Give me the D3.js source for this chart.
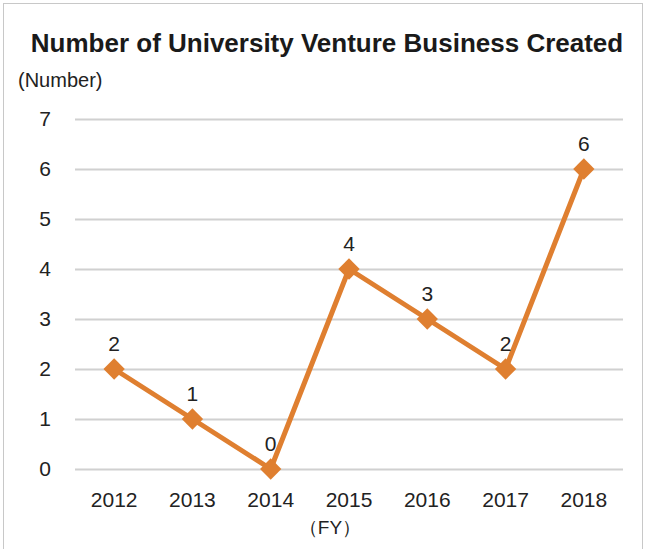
<!DOCTYPE html>
<html><head><meta charset="utf-8">
<script src="https://cdn.jsdelivr.net/npm/d3@7"></script>
<style>body{margin:0;background:#fff;}svg{display:block;font-family:"Liberation Sans",Arial,sans-serif;}</style>
</head><body>
<svg id="c" width="646" height="549"></svg>
<script>
const years = ["2012","2013","2014","2015","2016","2017","2018"];
const counts = [2,1,0,4,3,2,6];
const yTicks = [0,1,2,3,4,5,6,7];

const svg = d3.select("#c");
svg.append("rect").attr("x",3.5).attr("y",3.5).attr("width",639).attr("height",550)
  .attr("fill","#fff").attr("stroke","#c8c8c8").attr("stroke-width",1);

const x = d3.scaleBand().domain(years).range([75,623]);
const y = d3.scaleLinear().domain([0,7]).range([469,119]);

svg.append("text").attr("x",327).attr("y",52).attr("text-anchor","middle")
  .attr("font-size",26).attr("font-weight","bold").attr("fill","#1a1a1a")
  .text("Number of University Venture Business Created");
svg.append("text").attr("x",18).attr("y",87).attr("font-size",20).attr("fill","#222").text("(Number)");

const ya = svg.append("g").attr("transform","translate(75,0)")
  .call(d3.axisLeft(y).tickValues(yTicks).tickSize(-548).tickPadding(24).tickFormat(d3.format("d")));
ya.select(".domain").remove();
ya.selectAll(".tick line").attr("stroke","#d0d0d0").attr("stroke-width",2);
ya.selectAll(".tick text").attr("font-size",21).attr("fill","#222").attr("font-family","Liberation Sans, Arial, sans-serif");

const xa = svg.append("g").attr("transform","translate(0,469)")
  .call(d3.axisBottom(x).tickSize(0).tickPadding(23));
xa.select(".domain").remove();
xa.selectAll(".tick text").attr("font-size",21).attr("fill","#222").attr("font-family","Liberation Sans, Arial, sans-serif");

svg.append("text").attr("x",330).attr("y",534).attr("text-anchor","middle").attr("font-size",19).attr("fill","#222").text("（FY）");

const cx = d => x(d) + x.bandwidth()/2;
const color = "#DF7F30";
const line = d3.line().x((d,i)=>cx(years[i])).y(d=>y(d));
svg.append("path").datum(counts).attr("d",line).attr("fill","none").attr("stroke",color).attr("stroke-width",5).attr("stroke-linejoin","round");

svg.selectAll(".pt").data(counts).enter().append("path")
  .attr("d", d3.symbol().type(d3.symbolDiamond2).size(290))
  .attr("transform",(d,i)=>`translate(${cx(years[i])},${y(d)})`)
  .attr("fill",color);

svg.selectAll(".lbl").data(counts).enter().append("text")
  .attr("x",(d,i)=>cx(years[i])).attr("y",d=>y(d)-18).attr("text-anchor","middle")
  .attr("font-size",21).attr("fill","#222").text(d=>d);
</script>
</body></html>
